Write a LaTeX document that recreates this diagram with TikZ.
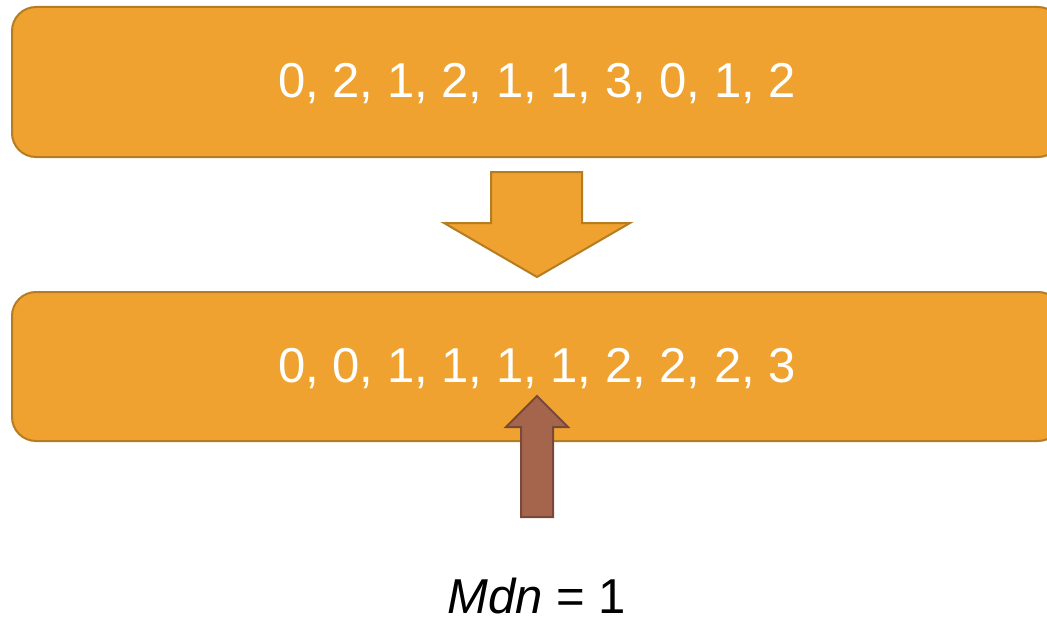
\documentclass[tikz,border=0pt]{standalone}
\usepackage{fontspec}
\setmainfont{Liberation Sans}
\definecolor{boxfill}{HTML}{EFA22F}
\definecolor{boxline}{HTML}{B57C22}
\definecolor{brownfill}{HTML}{A5654C}
\definecolor{brownline}{HTML}{7A4838}
\begin{document}
\begin{tikzpicture}[x=1pt,y=-1pt,
  databox/.style={draw=boxline,fill=boxfill,line width=2pt,rounded corners=24pt},
  datatext/.style={text=white,font=\fontsize{49}{55}\selectfont,anchor=base,inner sep=0pt},
  bigarrow/.style={draw=boxline,fill=boxfill,line width=2pt,line join=miter},
  ptrarrow/.style={draw=brownline,fill=brownfill,line width=2pt,line join=miter}]
\useasboundingbox (0,0) rectangle (1047,618);
\clip (0,0) rectangle (1047,618);
\fill[white] (0,0) rectangle (1047,618);
\draw[databox] (12,7) rectangle (1062,157);
\draw[databox] (12,292) rectangle (1062,441);
\node[datatext] (top) at (537,97) {0, 2, 1, 2, 1, 1, 3, 0, 1, 2};
\node[datatext] (bot) at (537,382) {0, 0, 1, 1, 1, 1, 2, 2, 2, 3};
\draw[bigarrow] (491,172) -- (582,172) -- (582,223) -- (630,223) -- (537,277) -- (444,223) -- (491,223) -- cycle;
\draw[ptrarrow] (537,396) -- (568,427) -- (553,427) -- (553,517) -- (521,517) -- (521,427) -- (506,427) -- cycle;
\node[datatext,text=black] (mdn) at (537,613) {\textit{Mdn} = 1};
\end{tikzpicture}
\end{document}
